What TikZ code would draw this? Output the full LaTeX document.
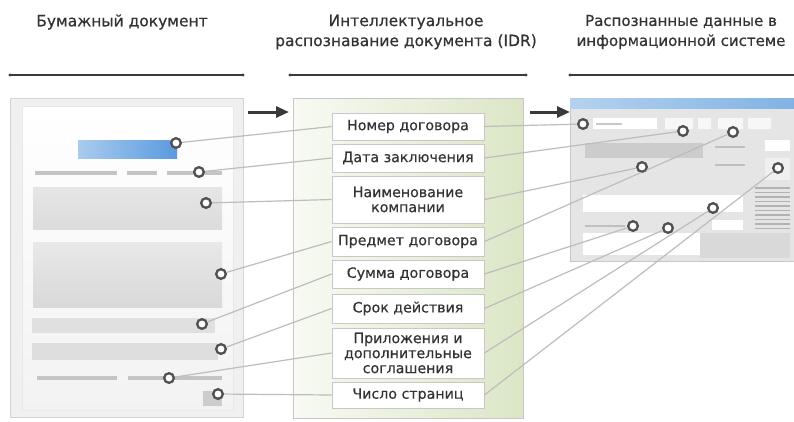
\documentclass[tikz,border=0pt]{standalone}
\usepackage{fontspec}
\setmainfont[FakeBold=0.6]{DejaVu Sans}
\newfontfamily\labfont[FakeBold=0.5]{DejaVu Sans}
\usetikzlibrary{arrows.meta}
\definecolor{txt}{HTML}{333333}
\definecolor{rulec}{HTML}{3a3a3a}
\definecolor{linegray}{HTML}{bdbdbd}
\definecolor{ringc}{HTML}{505050}
\definecolor{boxb}{HTML}{c8c8c8}
\definecolor{panelb}{HTML}{d4d4d4}
\definecolor{barc}{HTML}{c4c4c4}
\definecolor{blueL}{HTML}{a9cbee}
\definecolor{blueR}{HTML}{5a9ae0}
\definecolor{titleL}{HTML}{b4d2ef}
\definecolor{titleR}{HTML}{80b2e4}
\definecolor{greenL}{HTML}{f8faf3}
\definecolor{greenR}{HTML}{dbe6c6}
\begin{document}
\begin{tikzpicture}[x=1pt,y=-1pt,
  conn/.style={draw=linegray,line width=1.2pt},
  ring/.style={circle,draw=ringc,line width=1.9pt,fill=white,minimum size=10pt,inner sep=0pt},
  lbl/.style={draw=boxb,fill=white,line width=0.8pt,minimum width=152pt,inner sep=0pt,align=center,
    font=\labfont\fontsize{14.2}{15}\selectfont,text=txt},
  head/.style={font=\fontsize{15.5}{20}\selectfont,text=txt,align=center},
  rulel/.style={draw=rulec,line width=1.1pt},
  ruledot/.style={fill=rulec},
  bigarrow/.style={draw=rulec,line width=3pt,-{Triangle[length=13pt,width=11pt]}},
  gbar/.style={draw=barc,line width=4pt},
  wfield/.style={fill=white,draw=none},
]
\useasboundingbox (0,0) rectangle (794,421);
\fill[white] (0,0) rectangle (794,421);

% headers
\node[head] (h1) at (122,22) {Бумажный документ};
\node[head] (h2) at (406,32) {Интеллектуальное\\распознавание документа (IDR)};
\node[head,font=\fontsize{15}{20}\selectfont] (h3) at (681,32) {Распознанные данные в\\информационной системе};

\draw[rulel] (10,75) -- (243,75);
\fill[ruledot] (10,75) circle (1.6) (243,75) circle (1.6);
\draw[rulel] (290,75) -- (526,75);
\fill[ruledot] (290,75) circle (1.6) (526,75) circle (1.6);
\draw[rulel] (570,75) -- (800,75);
\fill[ruledot] (570,75) circle (1.6);

% arrows
\coordinate (a1s) at (248,112);
\coordinate (a1e) at (289,112);
\coordinate (a2s) at (530,112);
\coordinate (a2e) at (570,112);
\draw[bigarrow] (a1s) -- (a1e);
\draw[bigarrow] (a2s) -- (a2e);

% left panel (paper document)
\filldraw[fill=black!6,draw=panelb,line width=0.8pt] (10,98) rectangle (243,417);
\shade[top color=white,bottom color=black!5,draw=black!9] (22,106) rectangle (233,410);
\shade[left color=blueL,right color=blueR] (78,140) rectangle (177,158);
\draw[gbar] (35,173) -- (117,173) (127,173) -- (157,173) (167,173) -- (222,173);
\shade[top color=black!10,bottom color=black!14] (33,187) rectangle (222,229);
\shade[top color=black!9,bottom color=black!15] (33,242) rectangle (222,307);
\fill[black!12] (32,318) rectangle (215,333);
\fill[black!13] (32,343) rectangle (218,360);
\draw[gbar] (37,378) -- (117,378) (128,378) -- (222,378);
\fill[black!20] (203,391) rectangle (222,406);

% middle panel
\shade[left color=greenL,right color=greenR,draw=black!22,line width=0.8pt] (293,98) rectangle (523,418);

% right panel (window)
\filldraw[fill=black!10,draw=black!22,line width=0.8pt] (570,98) rectangle (800,261);
\shade[left color=titleL,right color=titleR] (570,98) rectangle (800,108);
\fill[wfield] (593,118) rectangle (657,129);
\draw[black!22,line width=2pt] (596,123.5) -- (622,123.5);
\fill[white!70!black!10] (665,118) rectangle (693,129) (698,118) rectangle (711,129) (718,118) rectangle (743,129) (748,118) rectangle (771,129);
\fill[black!20] (585,143) rectangle (703,158);
\draw[black!25,line width=2pt] (715,147) -- (745,147) (715,165) -- (745,165);
\fill[wfield] (765,140) rectangle (790,151);
\fill[black!6] (765,158) rectangle (790,180);
\fill[wfield] (583,195) rectangle (743,212);
\draw[black!25,line width=2pt] (585,226) -- (625,226);
\fill[wfield] (712,220) rectangle (743,230);
\fill[wfield] (583,233) rectangle (700,255);
\fill[black!15] (700,233) rectangle (790,258);
\foreach \yy in {188,192.5,...,229} {\draw[black!30,line width=1.3pt] (755,\yy) -- (790,\yy);}

% label boxes
\node[lbl,minimum height=27pt] (b1) at (408,126.5) {Номер договора};
\node[lbl,minimum height=28pt] (b2) at (408,158) {Дата заключения};
\node[lbl,minimum height=47pt] (b3) at (408,199.5) {Наименование\\компании};
\node[lbl,minimum height=29pt] (b4) at (408,241.5) {Предмет договора};
\node[lbl,minimum height=28pt] (b5) at (408,274) {Сумма договора};
\node[lbl,minimum height=29pt] (b6) at (408,308.5) {Срок действия};
\node[lbl,minimum height=50pt] (b7) at (408,353) {Приложения и\\дополнительные\\соглашения};
\node[lbl,minimum height=26pt] (b8) at (408,395) {Число страниц};

% rings (left)
\node[ring] (l1) at (176,143) {};
\node[ring] (l2) at (199,172) {};
\node[ring] (l3) at (206,203) {};
\node[ring] (l4) at (221,274) {};
\node[ring] (l5) at (202,324) {};
\node[ring] (l6) at (221,349) {};
\node[ring] (l7) at (169,378) {};
\node[ring] (l8) at (218,394) {};
% rings (right)
\node[ring] (r1) at (583,124) {};
\node[ring] (r2) at (683,131) {};
\node[ring] (r3) at (642,167) {};
\node[ring] (r4) at (733,132) {};
\node[ring] (r5) at (633,226) {};
\node[ring] (r6) at (668,228) {};
\node[ring] (r7) at (713,208) {};
\node[ring] (r8) at (778,168) {};

% connectors
\foreach \i in {1,...,8} {
  \draw[conn] (l\i) -- (b\i.west);
  \draw[conn] (b\i.east) -- (r\i);
}
% redraw rings on top of the connectors
\foreach \p/\n in {176/143,199/172,206/203,221/274,202/324,221/349,169/378,218/394,
  583/124,683/131,642/167,733/132,633/226,668/228,713/208,778/168} {
  \fill[white] (\p,\n) circle (4.5);
  \draw[ringc,line width=1.9pt] (\p,\n) circle (4.6);
}
\end{tikzpicture}
\end{document}
